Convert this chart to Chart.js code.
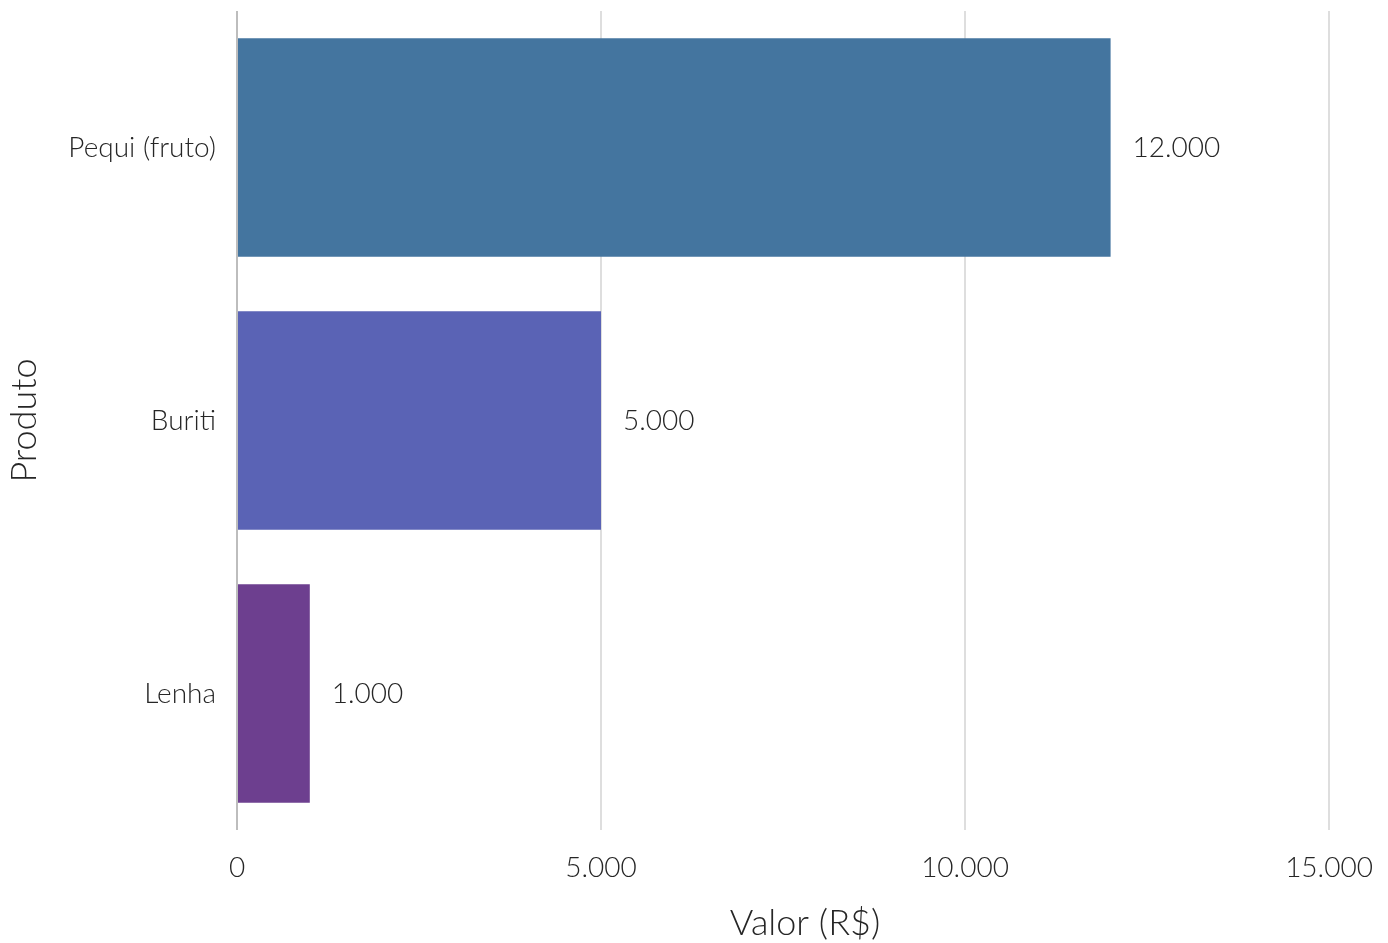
<!DOCTYPE html>
<html>
<head>
<meta charset="utf-8">
<script src="https://cdn.jsdelivr.net/npm/chart.js@4.4.1/dist/chart.umd.min.js"></script>
<style>
  html, body { margin: 0; padding: 0; background: #fff; }
  #wrap { width: 1388px; height: 943px; }
</style>
</head>
<body>
<div id="wrap"><canvas id="chart" width="1388" height="943"></canvas></div>
<script>
// dados do gráfico
const produtos = ['Pequi (fruto)', 'Buriti', 'Lenha'];
const valores = [12000, 5000, 1000];
const cores = ['#44759f', '#5a63b5', '#6d3f8f'];
const xTicks = [0, 5000, 10000, 15000];
const tituloX = 'Valor (R$)';

// formata número no padrão brasileiro (ponto como separador de milhar)
function fmt(v) {
    return String(Math.round(v)).replace(/\B(?=(\d{3})+(?!\d))/g, '.');
}

// plugin simples para escrever o valor ao lado da barra e o título do eixo x
const valueLabels = {
    id: 'valueLabels',
    afterDatasetsDraw(chart) {
        const ctx = chart.ctx;
        const meta = chart.getDatasetMeta(0);
        ctx.save();
        ctx.font = '300 28px Lato';
        ctx.fillStyle = '#262626';
        ctx.textAlign = 'left';
        ctx.textBaseline = 'middle';
        meta.data.forEach((bar, i) => {
            ctx.fillText(fmt(valores[i]), bar.x + 22, bar.y);
        });

        // título do eixo x (um pouco deslocado para a direita, como no original)
        const area = chart.chartArea;
        ctx.font = '300 36px Lato';
        ctx.textAlign = 'center';
        ctx.fillText(tituloX, (area.left + area.right) / 2 + 22, chart.height - 20);
        ctx.restore();
    }
};

Chart.defaults.font.family = 'Lato';
Chart.defaults.font.weight = '300';

new Chart(document.getElementById('chart'), {
    type: 'bar',
    data: {
        labels: produtos,
        datasets: [{
            data: valores,
            backgroundColor: cores,
            barPercentage: 0.8,
            categoryPercentage: 1.0
        }]
    },
    options: {
        indexAxis: 'y',
        responsive: false,
        animation: false,
        layout: { padding: { top: 11, right: 59, left: 0, bottom: 0 } },
        plugins: {
            legend: { display: false },
            tooltip: { enabled: false }
        },
        scales: {
            x: {
                min: 0,
                max: 15000,
                afterBuildTicks: (scale) => { scale.ticks = xTicks.map(v => ({ value: v })); },
                afterFit: (scale) => { scale.height = 113; scale.paddingLeft = 0; scale.paddingRight = 0; },
                border: { display: false },
                grid: {
                    drawTicks: false,
                    lineWidth: 2,
                    color: (c) => c.tick && c.tick.value === 0 ? '#bdbdbd' : '#dedede'
                },
                ticks: {
                    padding: 21,
                    color: '#262626',
                    font: { size: 28, weight: '300' },
                    callback: (v) => fmt(v)
                },
                title: { display: false }
            },
            y: {
                afterFit: (scale) => { scale.width = 237; scale.paddingTop = 0; scale.paddingBottom = 0; },
                border: { display: false },
                grid: { display: false, drawTicks: false },
                ticks: {
                    padding: 21,
                    color: '#262626',
                    font: { size: 28, weight: '300' }
                },
                title: {
                    display: true,
                    text: 'Produto',
                    color: '#262626',
                    font: { size: 36, weight: '300' },
                    padding: { top: 3, bottom: 0 }
                }
            }
        }
    },
    plugins: [valueLabels]
});
</script>
</body>
</html>
